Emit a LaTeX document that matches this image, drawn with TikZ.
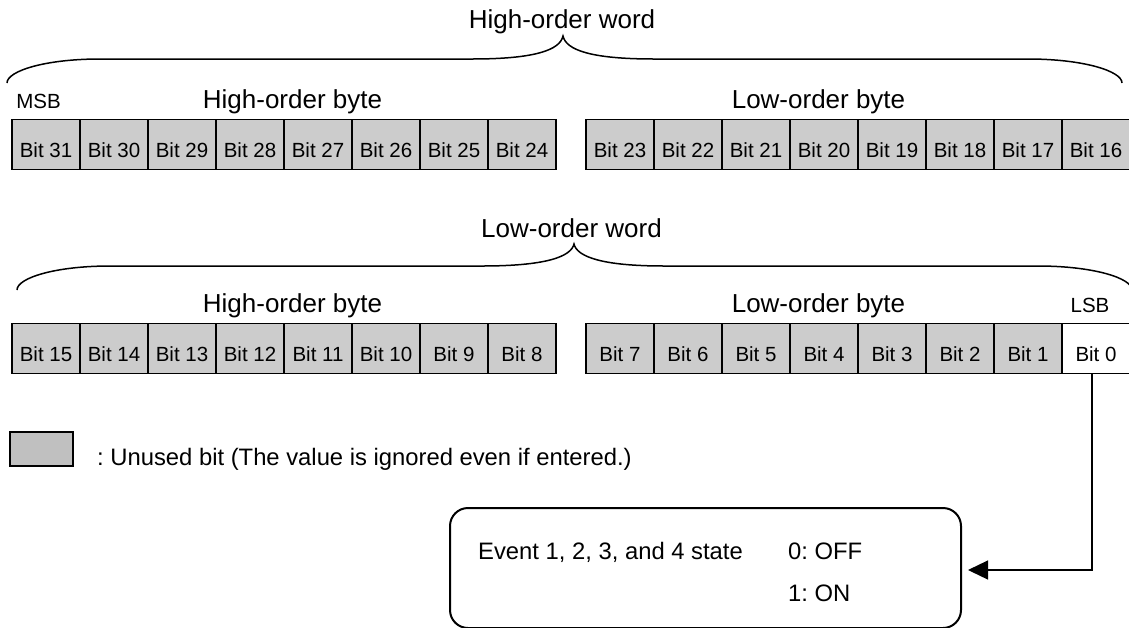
\documentclass[tikz,border=0pt]{standalone}
\usepackage{fontspec}
\setmainfont{Liberation Sans}
\usetikzlibrary{arrows.meta}
\definecolor{cellgray}{RGB}{204,204,204}
\definecolor{leggray}{RGB}{192,192,192}
\frenchspacing
\begin{document}
\begin{tikzpicture}[x=1pt,y=-1pt,
  cell/.style={draw=black, line width=1.6pt, minimum width=68pt, minimum height=50pt, inner sep=0pt, text height=25pt, text depth=0pt, font=\fontsize{20.5}{24}\selectfont},
  unused/.style={cell, fill=cellgray},
  bigl/.style={font=\fontsize{26}{30}\selectfont, anchor=base, inner sep=0pt},
  smalll/.style={font=\fontsize{20.5}{24}\selectfont, anchor=base, inner sep=0pt},
  brace/.style={line width=1.5pt},
  txt/.style={font=\fontsize{23.8}{28}\selectfont, anchor=base west, inner sep=0pt},
  conn/.style={line width=1.3pt, -{Triangle[length=20pt,width=19pt]}, shorten >=6pt}]
\useasboundingbox (0,0) rectangle (1129,627);
\clip (0,0) rectangle (1129,627);
\fill[white] (0,0) rectangle (1129,627);
% high-order word
\node[bigl] (hw) at (562,28) {High-order word};
\draw[brace] (7,83) .. controls (7,71) and (45,59) .. (100,59) -- (472,59)
  .. controls (535,59) and (560,50) .. (563,36)
  .. controls (566,50) and (591,59) .. (654,59) -- (1028,59)
  .. controls (1083,59) and (1122,71) .. (1122,83);
\node[smalll] (msb) at (38.5,108) {MSB};
\node[bigl] (hb1) at (292.5,108) {High-order byte};
\node[bigl] (lb1) at (818.5,108) {Low-order byte};
\foreach \i in {0,...,7} {
  \pgfmathtruncatemacro\n{31-\i}
  \node[unused] (b\n) at ({46+68*\i},144.5) {Bit \n};
}
\foreach \i in {0,...,7} {
  \pgfmathtruncatemacro\n{23-\i}
  \node[unused] (b\n) at ({620+68*\i},144.5) {Bit \n};
}
% low-order word
\node[bigl] (lw) at (571.5,237) {Low-order word};
\draw[brace] (17,290) .. controls (17,278) and (55,266) .. (110,266) -- (482,266)
  .. controls (545,266) and (571,257) .. (574,244)
  .. controls (577,257) and (603,266) .. (664,266) -- (1038,266)
  .. controls (1093,266) and (1132,278) .. (1132,290);
\node[bigl] (hb2) at (292.5,312) {High-order byte};
\node[bigl] (lb2) at (818.5,312) {Low-order byte};
\node[smalll] (lsb) at (1090,312) {LSB};
\foreach \i in {0,...,7} {
  \pgfmathtruncatemacro\n{15-\i}
  \node[unused] (b\n) at ({46+68*\i},348.5) {Bit \n};
}
\foreach \i in {0,...,6} {
  \pgfmathtruncatemacro\n{7-\i}
  \node[unused] (b\n) at ({620+68*\i},348.5) {Bit \n};
}
\node[cell, fill=white] (b0) at (1096,348.5) {Bit 0};
% legend
\node[draw, fill=leggray, line width=1.2pt, minimum width=63pt, minimum height=34pt, inner sep=0pt] (leg) at (41.5,449) {};
\node[txt] (legtxt) at (97,465) {: Unused bit (The value is ignored even if entered.)};
% state box
\node[draw, line width=2pt, rounded corners=18pt, minimum width=511pt, minimum height=120pt, inner sep=0pt] (state) at (705.5,568) {};
\node[txt] (evt) at (478,559) {Event 1, 2, 3, and 4 state};
\node[txt] (off) at (788,559) {0: OFF};
\node[txt] (on) at (788,601) {1: ON};
\draw[conn] ([xshift=-4pt]b0.south) |- ([yshift=-2pt]state.east);
\end{tikzpicture}
\end{document}
